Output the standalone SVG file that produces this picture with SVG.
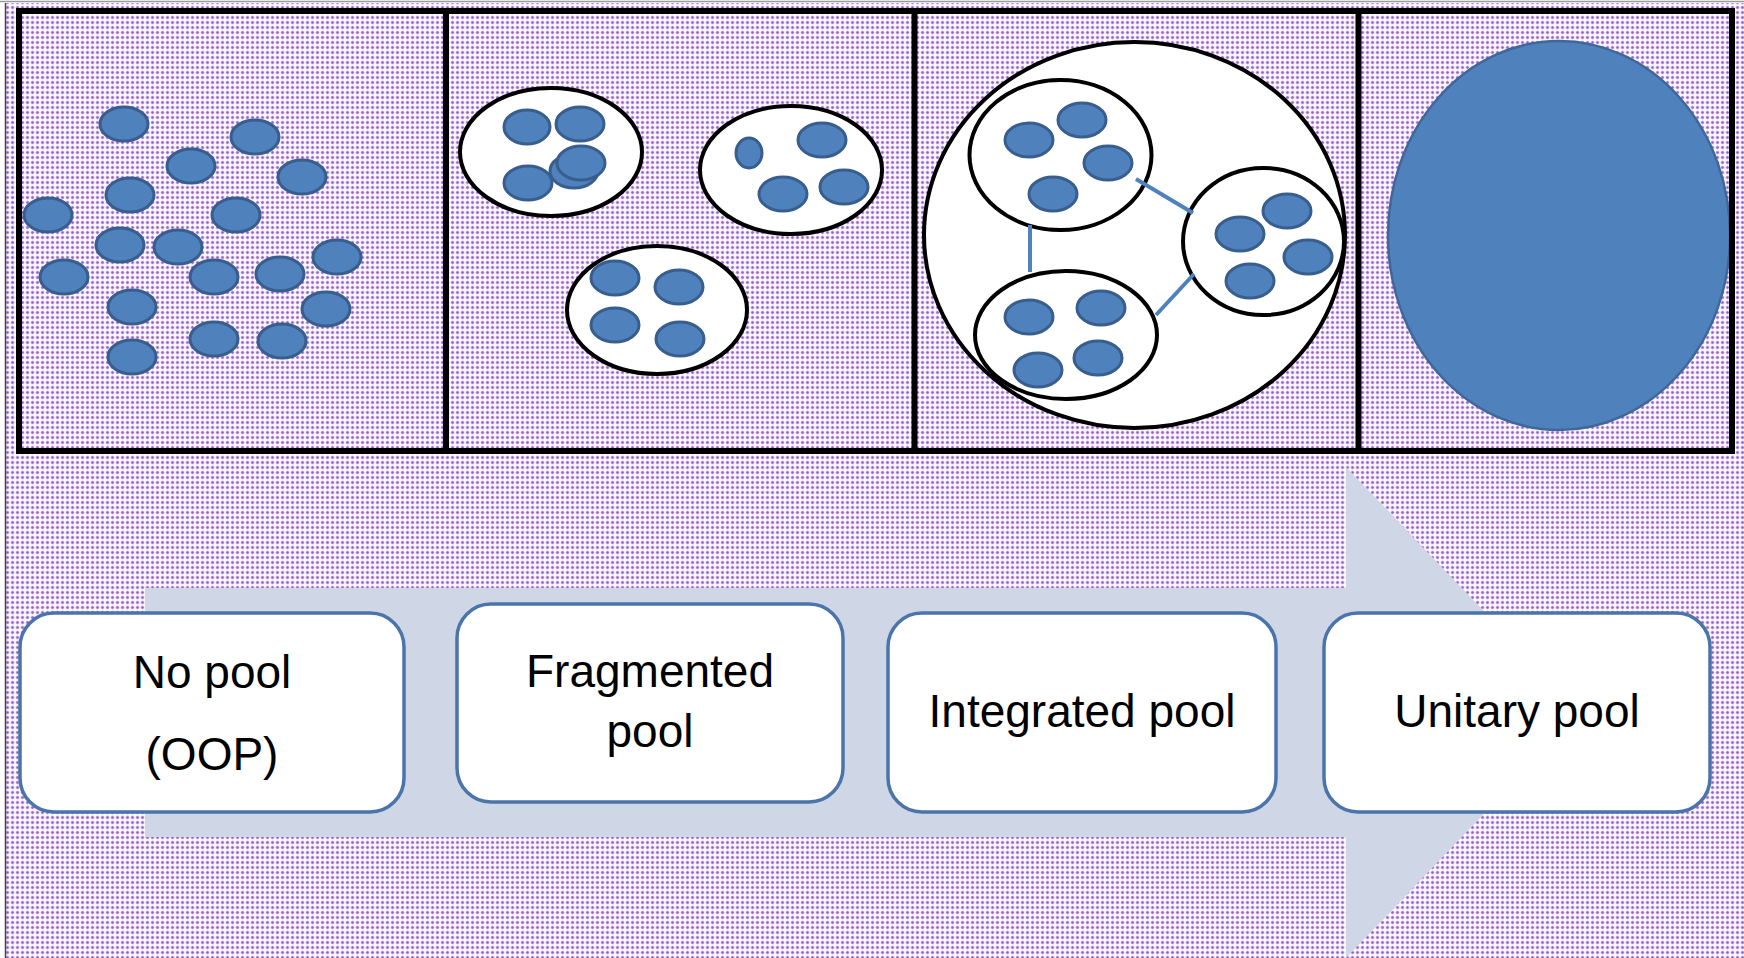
<svg xmlns="http://www.w3.org/2000/svg" width="1744" height="958" viewBox="0 0 1744 958">
<defs>
<pattern id="dots" width="5" height="5" patternUnits="userSpaceOnUse">
<rect width="5" height="5" fill="#fcfafe"/>
<circle cx="2.5" cy="2.5" r="2" fill="#dcc8ee"/>
<circle cx="2.5" cy="2.5" r="1.2" fill="#9460c6"/>
</pattern>
<style>
.s{fill:#4f81bd;stroke:#385e8e;stroke-width:3}
.c{fill:#ffffff;stroke:#000000;stroke-width:4}
.box{fill:#ffffff;stroke:#4a74aa;stroke-width:3.5}
.t{font-family:"Liberation Sans",Arial,sans-serif;font-size:46px;fill:#000000;text-anchor:middle}
.link{stroke:#4f81bd;stroke-width:4;fill:none}
</style>
</defs>
<rect x="0" y="0" width="1744" height="958" fill="#ffffff"/>
<rect x="6" y="3" width="1738" height="955" fill="url(#dots)"/>
<line x1="0" y1="1.5" x2="1744" y2="1.5" stroke="#9a9a9a" stroke-width="1.5"/>
<line x1="5.5" y1="3" x2="5.5" y2="958" stroke="#444" stroke-width="1.5"/>

<g id="arrow">
<polygon points="145,588 1346,588 1346,467 1581,712.5 1346,958 1346,837 145,837" fill="#cfd6e5"/>
</g>

<g id="panel1">
<ellipse class="s" cx="124" cy="124" rx="24" ry="17"/>
<ellipse class="s" cx="255" cy="137" rx="24" ry="17"/>
<ellipse class="s" cx="191" cy="166" rx="24" ry="17"/>
<ellipse class="s" cx="302" cy="177" rx="24" ry="17"/>
<ellipse class="s" cx="130" cy="195" rx="24" ry="17"/>
<ellipse class="s" cx="48" cy="215" rx="24" ry="17"/>
<ellipse class="s" cx="236" cy="215" rx="24" ry="17"/>
<ellipse class="s" cx="120" cy="245" rx="24" ry="17"/>
<ellipse class="s" cx="178" cy="247" rx="24" ry="17"/>
<ellipse class="s" cx="337" cy="257" rx="24" ry="17"/>
<ellipse class="s" cx="64" cy="277" rx="24" ry="17"/>
<ellipse class="s" cx="214" cy="277" rx="24" ry="17"/>
<ellipse class="s" cx="280" cy="274" rx="24" ry="17"/>
<ellipse class="s" cx="132" cy="307" rx="24" ry="17"/>
<ellipse class="s" cx="326" cy="309" rx="24" ry="17"/>
<ellipse class="s" cx="214" cy="339" rx="24" ry="17"/>
<ellipse class="s" cx="282" cy="341" rx="24" ry="17"/>
<ellipse class="s" cx="132" cy="357" rx="24" ry="17"/>
</g>

<g id="panel2">
<ellipse class="c" cx="551" cy="152" rx="91" ry="64"/>
<ellipse class="s" cx="527" cy="127" rx="23" ry="17"/>
<ellipse class="s" cx="580" cy="124" rx="24" ry="17"/>
<ellipse class="s" cx="528" cy="183" rx="24" ry="17"/>
<ellipse class="s" cx="574" cy="171" rx="24" ry="17"/>
<ellipse class="s" cx="581" cy="163" rx="24" ry="17"/>
<ellipse class="c" cx="791" cy="170" rx="91" ry="64"/>
<ellipse class="s" cx="749" cy="153" rx="13" ry="15"/>
<ellipse class="s" cx="822" cy="140" rx="24" ry="17"/>
<ellipse class="s" cx="783" cy="194" rx="24" ry="17"/>
<ellipse class="s" cx="844" cy="187" rx="24" ry="17"/>
<ellipse class="c" cx="657" cy="310" rx="90" ry="64"/>
<ellipse class="s" cx="615" cy="278" rx="24" ry="17"/>
<ellipse class="s" cx="679" cy="287" rx="24" ry="17"/>
<ellipse class="s" cx="615" cy="325" rx="24" ry="17"/>
<ellipse class="s" cx="680" cy="339" rx="24" ry="17"/>
</g>

<g id="panel3">
<ellipse class="c" cx="1134.5" cy="235" rx="210.5" ry="193"/>
<g id="cluster-a">
<ellipse class="c" cx="1060.5" cy="155" rx="91" ry="75"/>
<ellipse class="s" cx="1029" cy="140" rx="24" ry="17"/>
<ellipse class="s" cx="1082" cy="120" rx="24" ry="17"/>
<ellipse class="s" cx="1108" cy="163" rx="24" ry="17"/>
<ellipse class="s" cx="1053" cy="194" rx="24" ry="17"/>
</g>
<g id="cluster-b">
<ellipse class="c" cx="1263.5" cy="241.5" rx="80.5" ry="73.5"/>
<ellipse class="s" cx="1240" cy="234" rx="24" ry="17"/>
<ellipse class="s" cx="1287" cy="211" rx="24" ry="17"/>
<ellipse class="s" cx="1308" cy="257" rx="24" ry="17"/>
<ellipse class="s" cx="1250" cy="281" rx="24" ry="17"/>
</g>
<g id="cluster-c">
<ellipse class="c" cx="1066" cy="335" rx="91" ry="64"/>
<ellipse class="s" cx="1029" cy="317" rx="24" ry="17"/>
<ellipse class="s" cx="1101" cy="308" rx="24" ry="17"/>
<ellipse class="s" cx="1038" cy="370" rx="24" ry="17"/>
<ellipse class="s" cx="1098" cy="358" rx="24" ry="17"/>
</g>
</g>

<g id="connectors">
<line class="link" x1="1030" y1="225" x2="1030" y2="272"/>
<line class="link" x1="1136" y1="179" x2="1193" y2="213"/>
<line class="link" x1="1156" y1="315" x2="1194" y2="274"/>
</g>

<g id="panel4">
<ellipse cx="1559" cy="235.5" rx="171" ry="194.5" fill="#4f81bd" stroke="#3f679a" stroke-width="2.5"/>
</g>

<g id="frame" fill="none" stroke="#000" stroke-width="6">
<rect x="19" y="11" width="1713" height="440"/>
<line x1="446" y1="11" x2="446" y2="451"/>
<line x1="914.5" y1="11" x2="914.5" y2="451"/>
<line x1="1358.5" y1="11" x2="1358.5" y2="451"/>
</g>

<g id="box-no-pool">
<rect class="box" x="20" y="613" width="384" height="199" rx="34"/>
<text class="t" x="212" y="688">No pool</text>
<text class="t" x="212" y="770">(OOP)</text>
</g>
<g id="box-fragmented">
<rect class="box" x="457" y="604" width="386" height="198" rx="34"/>
<text class="t" x="650" y="687">Fragmented</text>
<text class="t" x="650" y="747">pool</text>
</g>
<g id="box-integrated">
<rect class="box" x="888" y="613" width="388" height="199" rx="34"/>
<text class="t" x="1082" y="727">Integrated pool</text>
</g>
<g id="box-unitary">
<rect class="box" x="1324" y="613" width="386" height="199" rx="34"/>
<text class="t" x="1517" y="727">Unitary pool</text>
</g>
</svg>
